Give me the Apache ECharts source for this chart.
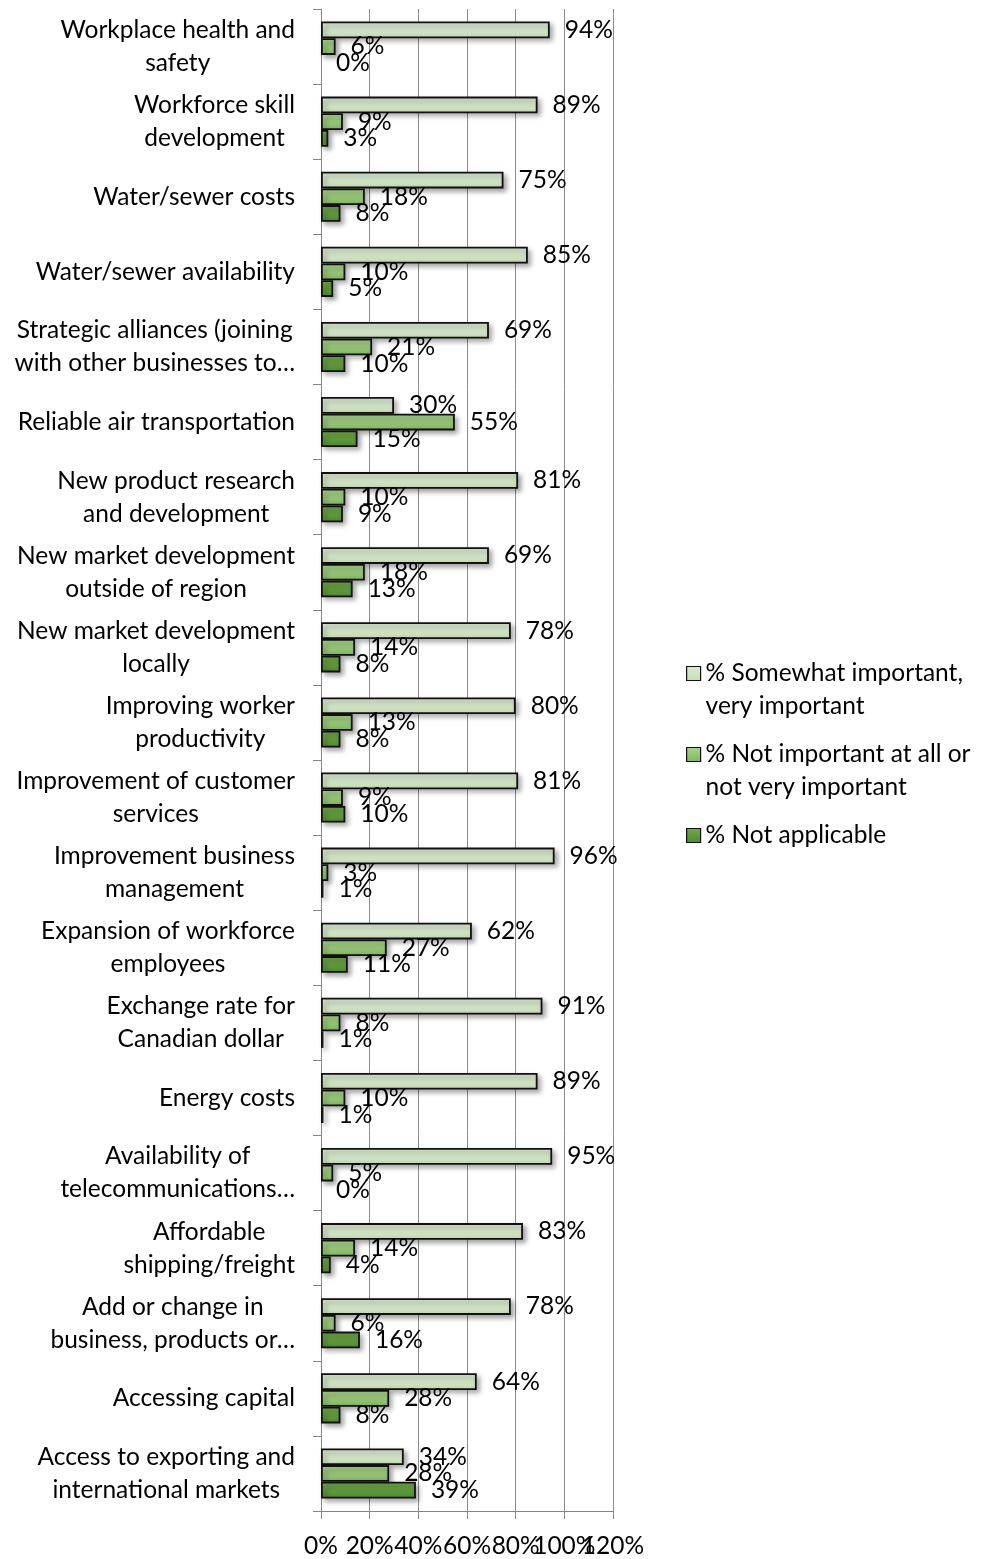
<!DOCTYPE html>
<html>
<head>
<meta charset="utf-8">
<script src="https://cdn.jsdelivr.net/npm/echarts@6/dist/echarts.min.js"></script>
<style>
html,body{margin:0;padding:0;background:#fff;}
#chart{width:981px;height:1559px;}
</style>
</head>
<body>
<div id="chart"></div>
<script>
const categories = [
  "Workplace health and\nsafety",
  "Workforce skill\ndevelopment",
  "Water/sewer costs",
  "Water/sewer availability",
  "Strategic alliances (joining\nwith other businesses to…",
  "Reliable air transportation",
  "New product research\nand development",
  "New market development\noutside of region",
  "New market development\nlocally",
  "Improving worker\nproductivity",
  "Improvement of customer\nservices",
  "Improvement business\nmanagement",
  "Expansion of workforce\nemployees",
  "Exchange rate for\nCanadian dollar",
  "Energy costs",
  "Availability of\ntelecommunications…",
  "Affordable\nshipping/freight",
  "Add or change in\nbusiness, products or…",
  "Accessing capital",
  "Access to exporting and\ninternational markets"
];
const seriesNames = [
  "% Somewhat important,\nvery important",
  "% Not important at all or\nnot very important",
  "% Not applicable"
];
const important = [94, 89, 75, 85, 69, 30, 81, 69, 78, 80, 81, 96, 62, 91, 89, 95, 83, 78, 64, 34];
const notImportant = [6, 9, 18, 10, 21, 55, 10, 18, 14, 13, 9, 3, 27, 8, 10, 5, 14, 6, 28, 28];
const notApplicable = [0, 3, 8, 5, 10, 15, 9, 13, 8, 8, 10, 1, 11, 1, 1, 0, 4, 16, 8, 39];
const xTicks = { min: 0, max: 120, interval: 20 };

const FONT = "Lato, 'Open Sans', sans-serif";
const FS = 24.5;
const LH = 33;
const grads = [
  ['#dcead3', '#c6dbb7'],
  ['#a8d38c', '#84b662'],
  ['#70a84a', '#528a30']
];
function grad(c) {
  return new echarts.graphic.LinearGradient(0, 0, 0, 1, [
    { offset: 0, color: c[0] }, { offset: 1, color: c[1] }
  ]);
}
const values = [important, notImportant, notApplicable];

const chart = echarts.init(document.getElementById('chart'));
const series = values.map((vals, i) => ({
  name: seriesNames[i],
  type: 'bar',
  xAxisIndex: 0,
  data: vals.map(v => v === 0
    ? { value: v, itemStyle: { color: 'rgba(0,0,0,0)', borderWidth: 0, shadowColor: 'rgba(0,0,0,0)' } }
    : v),
  barWidth: 16.7,
  barGap: '0%',
  itemStyle: {
    color: grad(grads[i]),
    borderColor: '#111',
    borderWidth: 1.8,
    shadowColor: 'rgba(0,0,0,0.35)',
    shadowBlur: 5,
    shadowOffsetX: 3,
    shadowOffsetY: 3
  },
  label: {
    show: true,
    position: 'right',
    distance: 15,
    formatter: '{c}%',
    fontFamily: FONT,
    fontSize: FS,
    color: '#000'
  }
}));

function legendText(name) {
  const lines = name.split('\n');
  const out = ['{e| }'].concat(lines.map(s => '{t|' + s + '}'));
  if (lines.length === 1) out.push('{e| }');
  return out.join('\n');
}

const axisLineStyle = { color: '#868686', width: 1 };
chart.setOption({
  backgroundColor: '#fff',
  animation: false,
  grid: { left: 321, right: 368, top: 9, bottom: 48, outerBoundsMode: 'none' },
  xAxis: [{
    type: 'value',
    position: 'bottom',
    min: xTicks.min, max: xTicks.max, interval: xTicks.interval,
    axisLine: { show: true, lineStyle: axisLineStyle },
    axisTick: { show: false },
    splitLine: { show: true, lineStyle: { color: '#8c8c8c', width: 1 } },
    axisLabel: {
      formatter: '{value}%', margin: 23,
      showMinLabel: true, showMaxLabel: false,
      fontFamily: FONT, fontSize: FS, color: '#000'
    }
  }, {
    type: 'value',
    position: 'bottom',
    min: xTicks.min, max: xTicks.max, interval: xTicks.interval,
    axisLine: { show: false },
    axisTick: { show: true, length: 8, lineStyle: axisLineStyle },
    splitLine: { show: false },
    axisLabel: {
      formatter: v => (v === xTicks.max ? v + '%' : ''), margin: 23,
      showMinLabel: true, showMaxLabel: true,
      fontFamily: FONT, fontSize: FS, color: '#000'
    }
  }],
  yAxis: {
    type: 'category',
    inverse: true,
    data: categories,
    axisLine: { show: true, lineStyle: axisLineStyle },
    axisTick: { show: true, length: 8, lineStyle: axisLineStyle },
    axisLabel: {
      margin: 26,
      fontFamily: FONT, fontSize: FS, color: '#000', lineHeight: LH,
      formatter: function (v) {
        return v.split('\n').map(s => '{c|' + s + '}').join('\n');
      },
      rich: { c: { align: 'center', fontFamily: FONT, fontSize: FS, lineHeight: LH, color: '#000' } }
    }
  },
  legend: {
    orient: 'vertical',
    left: 681,
    top: 619,
    padding: 5,
    itemWidth: 14,
    itemHeight: 14,
    itemGap: -18,
    icon: 'rect',
    formatter: legendText,
    textStyle: {
      fontFamily: FONT, fontSize: FS, color: '#000', lineHeight: LH,
      rich: {
        e: { fontFamily: FONT, fontSize: FS, lineHeight: LH },
        t: { fontFamily: FONT, fontSize: FS, lineHeight: LH, color: '#000' }
      }
    },
    data: seriesNames,
    itemStyle: { borderColor: '#111', borderWidth: 1.2 }
  },
  series: series
});
</script>
</body>
</html>
